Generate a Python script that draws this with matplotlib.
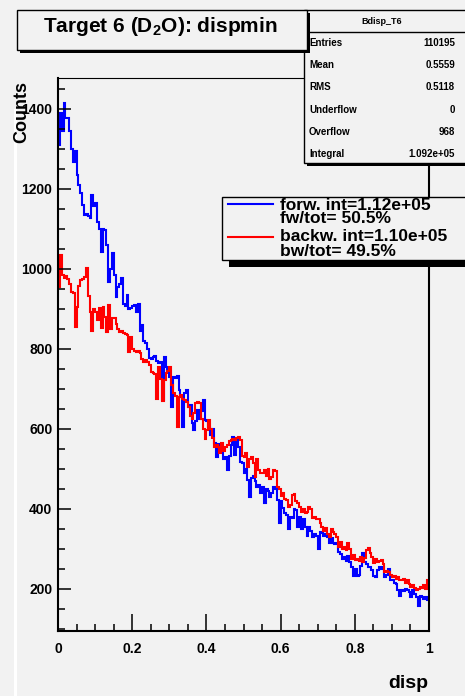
import numpy as np
import matplotlib
matplotlib.use("Agg")
import matplotlib.pyplot as plt
from matplotlib.patches import Rectangle
from matplotlib.lines import Line2D
from matplotlib.ticker import MultipleLocator

# ============================================================
# 0) DATA (200 bins on [0, 1])
# ============================================================
x_min, x_max, n_bins = 0.0, 1.0, 200

forw_counts = [
    1310, 1390, 1345, 1415, 1378, 1378, 1345, 1300, 1268, 1295,
    1235, 1210, 1190, 1160, 1135, 1137, 1132, 1128, 1185, 1158,
    1165, 1118, 1100, 1042, 1100, 1098, 1060, 968, 1000, 1040,
    985, 930, 955, 962, 978, 912, 908, 935, 900, 902,
    908, 910, 892, 912, 845, 860, 820, 815, 800, 778,
    775, 780, 782, 770, 765, 768, 672, 780, 755, 745,
    730, 655, 730, 728, 732, 698, 680, 605, 690, 698,
    655, 660, 615, 598, 620, 648, 625, 645, 673, 623,
    620, 605, 585, 600, 565, 530, 562, 548, 550, 525,
    530, 498, 532, 560, 580, 535, 572, 555, 518, 515,
    490, 500, 473, 430, 478, 482, 470, 455, 460, 440,
    455, 415, 450, 445, 430, 440, 455, 450, 423, 365,
    420, 402, 390, 385, 350, 380, 378, 400, 398, 355,
    380, 350, 375, 355, 332, 355, 345, 330, 338, 332,
    300, 342, 340, 332, 338, 330, 315, 328, 315, 312,
    315, 292, 288, 275, 280, 270, 282, 268, 255, 232,
    250, 232, 235, 258, 290, 268, 262, 255, 255, 248,
    232, 230, 248, 255, 250, 256, 230, 236, 250, 223,
    222, 215, 212, 198, 182, 198, 196, 200, 197, 192,
    180, 198, 188, 180, 158, 182, 180, 176, 180, 172,
]

backw_counts = [
    955, 1035, 985, 978, 982, 975, 962, 943, 940, 855,
    905, 958, 972, 975, 980, 1003, 932, 893, 845, 900,
    893, 872, 903, 853, 905, 880, 843, 910, 850, 878,
    878, 862, 850, 843, 845, 840, 836, 835, 793, 830,
    800, 795, 793, 795, 790, 775, 768, 772, 768, 760,
    742, 740, 738, 675, 755, 725, 670, 723, 740, 745,
    755, 710, 690, 682, 605, 680, 686, 676, 673, 668,
    655, 632, 625, 640, 665, 668, 665, 625, 600, 575,
    598, 622, 600, 578, 556, 560, 555, 540, 565, 545,
    555, 560, 570, 573, 575, 572, 578, 580, 573, 532,
    530, 540, 505, 525, 530, 515, 480, 525, 498, 490,
    490, 498, 482, 500, 475, 480, 498, 495, 455, 450,
    432, 440, 425, 422, 405, 410, 435, 438, 420, 415,
    405, 393, 400, 390, 392, 405, 400, 378, 380, 375,
    375, 365, 355, 345, 352, 338, 330, 350, 342, 338,
    330, 305, 318, 300, 305, 298, 315, 300, 275, 285,
    273, 276, 270, 280, 268, 278, 298, 303, 290, 280,
    266, 276, 268, 270, 273, 262, 242, 246, 243, 236,
    230, 232, 225, 230, 223, 222, 225, 215, 223, 212,
    205, 210, 203, 198, 200, 205, 203, 210, 200, 223,
]

title_text = "Target 6 (D$_{\\mathbf{2}}$O): dispmin"
stats_name = "Bdisp_T6"
stats_labels = ["Entries", "Mean", "RMS", "Underflow", "Overflow", "Integral"]
stats_values = ["110195", "0.5559", "0.5118", "0", "968", "1.092e+05"]
legend_lines = ["forw. int=1.12e+05", "fw/tot= 50.5%",
                "backw. int=1.10e+05", "bw/tot= 49.5%"]

# ============================================================
# 1) FIGURE
# ============================================================
W, H = 465, 696
BG = "#f2f2f2"
plt.rcParams["font.family"] = ["Liberation Sans", "DejaVu Sans"]
plt.rcParams["font.weight"] = "bold"
plt.rcParams["mathtext.fontset"] = "custom"
plt.rcParams["mathtext.rm"] = "Liberation Sans:bold"
plt.rcParams["mathtext.bf"] = "Liberation Sans:bold"

fig = plt.figure(figsize=(W / 100, H / 100), dpi=100, facecolor=BG)

def fx(px): return px / W
def fy(py): return 1 - py / H

ax = fig.add_axes([fx(58), fy(631), fx(429) - fx(58), fy(78) - fy(631)])
ax.set_facecolor(BG)

edges = np.linspace(x_min, x_max, n_bins + 1)
ax.stairs(forw_counts, edges, color="#0000ff", lw=1.5, baseline=None)
ax.stairs(backw_counts, edges, color="#ff0000", lw=1.5, baseline=None)

ax.set_xlim(0, 1)
ax.set_ylim(95, 1477)
ax.xaxis.set_major_locator(MultipleLocator(0.2))
ax.xaxis.set_minor_locator(MultipleLocator(0.05))
ax.yaxis.set_major_locator(MultipleLocator(200))
ax.yaxis.set_minor_locator(MultipleLocator(50))
ax.set_xticks([0, 0.2, 0.4, 0.6, 0.8, 1.0])
ax.set_xticklabels(["0", "0.2", "0.4", "0.6", "0.8", "1"])
ax.tick_params(axis="x", which="major", direction="in", length=12, width=1.1, pad=8, labelsize=10)
ax.tick_params(axis="x", which="minor", direction="in", length=5, width=1.1)
ax.tick_params(axis="y", which="major", direction="in", length=9.5, width=1.1, pad=4, labelsize=10)
ax.tick_params(axis="y", which="minor", direction="in", length=5, width=1.1)
for s in ["left", "bottom", "right"]:
    ax.spines[s].set_linewidth(1.5)
ax.spines["top"].set_linewidth(0.8)

# axis titles
fig.text(fx(22), fy(112), "Counts", rotation=90, ha="center", va="center", fontsize=13, weight="bold")
fig.text(fx(428), fy(684), "disp", ha="right", va="center", fontsize=14, weight="bold")

# white strip on the left edge of the canvas
fig.add_artist(Line2D([fx(14.5), fx(14.5)], [fy(110), fy(696)], color="white", lw=2.2))

# ============================================================
# 2) BOXES: stats, title, legend
# ============================================================
def box(x0, y0, x1, y1, shadow=0, z=5):
    if shadow:
        fig.add_artist(Rectangle((fx(x0 + shadow), fy(y1 + shadow)), fx(x1) - fx(x0), fy(y0) - fy(y1),
                                 transform=fig.transFigure, facecolor="black", edgecolor="none", zorder=z))
    fig.add_artist(Rectangle((fx(x0), fy(y1)), fx(x1) - fx(x0), fy(y0) - fy(y1),
                             transform=fig.transFigure, facecolor=BG, edgecolor="black", lw=1.0, zorder=z + 0.1))

# stats box
box(304, 10, 475, 163, shadow=3, z=5)
fig.add_artist(Line2D([fx(304), fx(475)], [fy(32), fy(32)], color="black", lw=1.0, zorder=5.2))
fig.text(fx(382), fy(21), stats_name, ha="center", va="center", fontsize=6.5, zorder=6)
for i, (lab, val) in enumerate(zip(stats_labels, stats_values)):
    yy = 43 + i * 22.2
    fig.text(fx(309), fy(yy), lab, ha="left", va="center", fontsize=7, zorder=6)
    fig.text(fx(455), fy(yy), val, ha="right", va="center", fontsize=7, zorder=6)

# title box (drawn over the stats box)
box(17, 10, 307, 50, shadow=3, z=7)
fig.text(fx(160), fy(26), title_text, ha="center", va="center", fontsize=15, zorder=8)

# legend box
box(222, 197, 475, 260, shadow=7, z=7)
fig.add_artist(Line2D([fx(228), fx(273)], [fy(204), fy(204)], color="#0000ff", lw=1.5, zorder=8))
fig.add_artist(Line2D([fx(228), fx(273)], [fy(237), fy(237)], color="#ff0000", lw=1.5, zorder=8))
for txt, yy in zip(legend_lines, [205, 218.5, 237, 251]):
    fig.text(fx(280), fy(yy), txt, ha="left", va="center", fontsize=12.5, zorder=8)

fig.savefig("out.png", dpi=100, facecolor=BG)
